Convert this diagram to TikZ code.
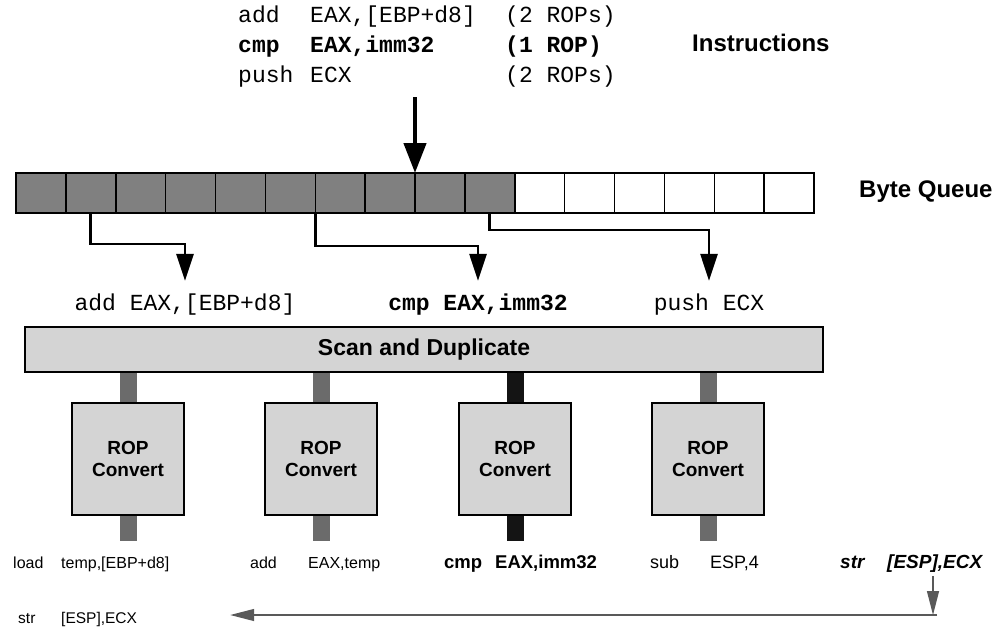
\documentclass[tikz,border=0pt]{standalone}
\usepackage{fontspec}
\setmainfont{Liberation Sans}
\newfontfamily\monof{Liberation Mono}
\usetikzlibrary{arrows.meta}
\newcommand\fsz[1]{\fontsize{#1}{#1}\selectfont}
\definecolor{qdarkc}{gray}{0.5}
\definecolor{lightc}{gray}{0.83}
\definecolor{stubc}{gray}{0.42}
\definecolor{stubk}{gray}{0.08}
\definecolor{arrg}{gray}{0.35}
\begin{document}
\begin{tikzpicture}[x=1pt,y=-1pt,
  qcell/.style={draw=black, line width=1.5pt, minimum width=49.875pt, minimum height=40pt,
    inner sep=0pt, outer sep=0pt, anchor=north west},
  qdark/.style={qcell, fill=qdarkc},
  qwhite/.style={qcell, fill=white},
  instr/.style={font=\monof\fsz{23}, inner sep=0pt, anchor=base west},
  instrb/.style={instr, font=\monof\bfseries\fsz{23}},
  biglabel/.style={font=\bfseries\fsz{24}, inner sep=0pt, anchor=base west},
  feed/.style={font=\monof\fsz{23}, inner xsep=0pt, inner ysep=15pt, text height=14pt, text depth=4pt},
  feedb/.style={feed, font=\monof\bfseries\fsz{23}},
  conn/.style={line width=2.8pt, line join=miter, -{Triangle[length=27pt,width=17pt]}},
  bigarr/.style={line width=4.5pt, -{Triangle[length=30pt,width=22pt]}},
  scanbar/.style={draw=black, line width=1.5pt, fill=lightc, minimum width=798pt, minimum height=45pt,
    inner sep=0pt, outer sep=0pt, font=\bfseries\fsz{23}},
  rop/.style={draw=black, line width=1.5pt, fill=lightc, minimum width=112pt, minimum height=112pt,
    inner sep=0pt, outer sep=0pt, align=center, font=\bfseries\fontsize{19}{22}\selectfont},
  stub/.style={line width=17pt, draw=stubc, shorten <=0.75pt, shorten >=0.75pt},
  stubdark/.style={stub, draw=stubk},
  rlab/.style={font=\fsz{16}, inner sep=0pt, anchor=base west},
  rlabb/.style={font=\bfseries\fsz{18.5}, inner sep=0pt, anchor=base west},
  rlabi/.style={font=\bfseries\itshape\fsz{19}, inner sep=0pt, anchor=base west},
  thinarr/.style={line width=1.3pt, draw=arrg, -{Triangle[length=24pt,width=12pt,fill=arrg]}}
]
\useasboundingbox (0,0) rectangle (1004,637);

% instructions
\node[instr]  (i1a) at (238,22) {add};
\node[instr]  (i1b) at (310,22) {EAX,[EBP+d8]};
\node[instr]  (i1c) at (505,22) {(2 ROPs)};
\node[instrb] (i2a) at (238,52) {cmp};
\node[instrb] (i2b) at (310,52) {EAX,imm32};
\node[instrb] (i2c) at (505,52) {(1 ROP)};
\node[instr]  (i3a) at (238,82) {push};
\node[instr]  (i3b) at (310,82) {ECX};
\node[instr]  (i3c) at (505,82) {(2 ROPs)};
\node[biglabel] (instrlab) at (692,51) {Instructions};

% byte queue
\foreach \i in {1,...,10} {
  \node[qdark] (c\i) at ({16+(\i-1)*49.875},173) {};
}
\foreach \i in {11,...,16} {
  \node[qwhite] (c\i) at ({16+(\i-1)*49.875},173) {};
}
\node[biglabel] (bqlab) at (859,197) {Byte Queue};

\coordinate (src) at (415,97);
\draw[bigarr] (src) -- (c8.north east);

% fetched instructions
\node[feed]  (lab1) at (185,305) {add EAX,[EBP+d8]};
\node[feedb] (lab2) at (478,305) {cmp EAX,imm32};
\node[feed]  (lab3) at (709,305) {push ECX};

\draw[conn] (c2.south) -- ++(0,31) -| (lab1.north);
\draw[conn] (c6.south east) -- ++(0,33) -| (lab2.north);
\draw[conn] (c10.south) -- ++(0,17) -| (lab3.north);

% scan and duplicate
\node[scanbar] (scan) at (424,349.5) {Scan and Duplicate};

% ROP converters
\node[rop] (r1) at (128,459) {ROP\\Convert};
\node[rop] (r2) at (321,459) {ROP\\Convert};
\node[rop] (r3) at (515,459) {ROP\\Convert};
\node[rop] (r4) at (708,459) {ROP\\Convert};

\draw[stub] (scan.south -| r1.north) -- (r1.north);
\draw[stub] (scan.south -| r2.north) -- (r2.north);
\draw[stubdark] (scan.south -| r3.north) -- (r3.north);
\draw[stub] (scan.south -| r4.north) -- (r4.north);

\draw[stub] (r1.south) -- ++(0,27);
\draw[stub] (r2.south) -- ++(0,27);
\draw[stubdark] (r3.south) -- ++(0,27);
\draw[stub] (r4.south) -- ++(0,27);

% ROP outputs
\node[rlab]  (o1a) at (13,568) {load};
\node[rlab]  (o1b) at (61,568) {temp,[EBP+d8]};
\node[rlab]  (o2a) at (250,568) {add};
\node[rlab]  (o2b) at (308,568) {EAX,temp};
\node[rlabb] (o3a) at (444,568) {cmp};
\node[rlabb] (o3b) at (495,568) {EAX,imm32};
\node[rlab, font=\fsz{18}] (o4a) at (650,568) {sub};
\node[rlab, font=\fsz{18}] (o4b) at (710,568) {ESP,4};
\node[rlabi] (o5a) at (840,568) {str};
\node[rlabi] (o5b) at (887,568) {[ESP],ECX};

\node[rlab, font=\fsz{15.5}] (s2a) at (18,623) {str};
\node[rlab, font=\fsz{15.5}] (s2b) at (61,623) {[ESP],ECX};

\coordinate (turn) at (933,615);
\draw[thinarr] ([yshift=-4pt]o5b.south -| turn) -- (turn);
\draw[thinarr, shorten >=93pt] ([xshift=4pt]turn) -- (turn -| s2b.east);
\end{tikzpicture}
\end{document}
